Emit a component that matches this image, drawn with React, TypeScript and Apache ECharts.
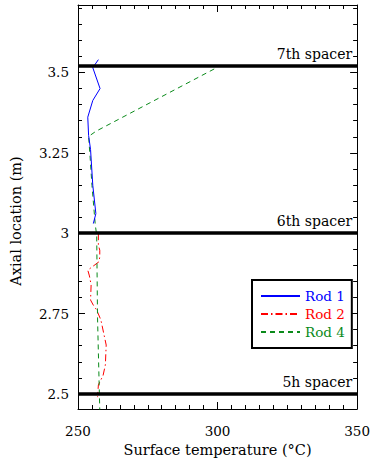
import React, { useEffect, useRef } from "react";
import * as echarts from "echarts";

const rod1Temp = [257.3, 255.3, 257.9, 255.3, 253.5, 253.8, 254.5, 255.3, 256.4, 255.5];
const rod1Axial = [3.54, 3.515, 3.45, 3.413, 3.361, 3.304, 3.26, 3.149, 3.061, 3.03];

const rod2Temp = [257.3, 257.3, 257.8, 257.8, 257.5, 253.5, 254.1, 254.7, 254.5, 255.5, 256.7, 258.2, 260.1, 259.8, 258.9, 258.5, 257.3, 257.0];
const rod2Axial = [3.0, 2.963, 2.947, 2.926, 2.911, 2.885, 2.867, 2.839, 2.792, 2.776, 2.761, 2.73, 2.652, 2.59, 2.554, 2.549, 2.528, 2.49];

const rod4Temp = [298.8, 256.4, 253.8, 254.3, 255.0, 256.2, 256.7, 257.0, 257.8];
const rod4Axial = [3.511, 3.317, 3.301, 3.242, 3.149, 3.025, 2.994, 2.736, 2.45];

const spacerNames = ["7th spacer", "6th spacer", "5h spacer"];
const spacerAxial = [3.523, 3.0, 2.5];

const yMajorTicks = [2.5, 2.75, 3, 3.25, 3.5];
const yMinorTicks = [2.5, 2.55, 2.6, 2.65, 2.7, 2.75, 2.8, 2.85, 2.9, 2.95, 3.0, 3.05, 3.1, 3.15, 3.2, 3.25, 3.3, 3.35, 3.4, 3.45, 3.5, 3.55, 3.6, 3.65, 3.7];

const FONT = "DejaVu Serif";

function pairs(xs: number[], ys: number[]) {
  return xs.map((x, i) => [x, ys[i]]);
}

export default function App() {
  const ref = useRef<HTMLDivElement>(null);
  useEffect(() => {
    document.body.style.margin = "0";
    const chart = echarts.init(ref.current!, null, { renderer: "svg" });
    const yMin = 2.453;
    const yMax = 3.71;
    const baseY = {
      type: "value" as const,
      min: yMin,
      max: yMax,
      splitLine: { show: false },
    };
    const tickLine = { color: "#000", width: 1 };
    chart.setOption({
      animation: false,
      grid: { left: 75, top: 5, width: 283, height: 404 },
      xAxis: [
        {
          type: "value",
          min: 250,
          max: 350,
          interval: 50,
          position: "bottom",
          axisLine: { show: true, lineStyle: { color: "#000", width: 1 } },
          axisTick: { show: true, inside: true, length: 7, lineStyle: tickLine },
          minorTick: { show: true, splitNumber: 10, length: 4, lineStyle: tickLine },
          axisLabel: { show: true, margin: 15, color: "#000", fontFamily: FONT, fontSize: 13.5 },
          splitLine: { show: false },
          name: "Surface temperature (°C)",
          nameLocation: "middle",
          nameGap: 33,
          nameTextStyle: { color: "#000", fontFamily: FONT, fontSize: 14.5 },
        },
        {
          type: "value",
          min: 250,
          max: 350,
          interval: 50,
          position: "top",
          axisLine: { show: true, lineStyle: { color: "#000", width: 1 } },
          axisTick: { show: true, inside: true, length: 7, lineStyle: tickLine },
          minorTick: { show: true, splitNumber: 10, length: 4, lineStyle: tickLine },
          axisLabel: { show: false },
          splitLine: { show: false },
        },
      ],
      yAxis: [
        {
          ...baseY,
          position: "left",
          axisLine: { show: true, lineStyle: { color: "#000", width: 1 } },
          axisTick: { show: true, inside: true, length: 7, lineStyle: tickLine, customValues: yMajorTicks },
          axisLabel: {
            show: true,
            customValues: yMajorTicks,
            margin: 9,
            color: "#000",
            fontFamily: FONT,
            fontSize: 13.5,
            formatter: (v: number) => String(v),
          },
          name: "Axial location (m)",
          nameLocation: "middle",
          nameGap: 55,
          nameTextStyle: { color: "#000", fontFamily: FONT, fontSize: 14.5, padding: [0, 28, 0, 0] },
        },
        {
          ...baseY,
          position: "left",
          axisLine: { show: false },
          axisTick: { show: true, inside: true, length: 4, lineStyle: tickLine, customValues: yMinorTicks },
          axisLabel: { show: false },
        },
        {
          ...baseY,
          position: "right",
          axisLine: { show: true, lineStyle: { color: "#000", width: 1 } },
          axisTick: { show: true, inside: true, length: 7, lineStyle: tickLine, customValues: yMajorTicks },
          axisLabel: { show: false },
        },
        {
          ...baseY,
          position: "right",
          axisLine: { show: false },
          axisTick: { show: true, inside: true, length: 4, lineStyle: tickLine, customValues: yMinorTicks },
          axisLabel: { show: false },
        },
      ],
      legend: {
        orient: "vertical",
        left: 252,
        top: 280,
        padding: [9, 7, 9, 8],
        itemWidth: 39,
        itemHeight: 10,
        itemGap: 4,
        borderColor: "#000",
        borderWidth: 2,
        backgroundColor: "#fff",
        itemStyle: { opacity: 0 },
        textStyle: { fontFamily: FONT, fontSize: 13.5 },
        data: [
          { name: "Rod 1", textStyle: { color: "#0000ff" } },
          { name: "Rod 2", textStyle: { color: "#ff0000" } },
          { name: "Rod 4", textStyle: { color: "#0a8a1a" } },
        ],
      },
      series: [
        {
          name: "Rod 1",
          type: "line",
          data: pairs(rod1Temp, rod1Axial),
          showSymbol: false,
          symbol: "none",
          color: "#0000ff",
          itemStyle: { opacity: 0 },
          lineStyle: { color: "#0000ff", width: 1 },
          z: 3,
          markLine: {
            silent: true,
            symbol: ["none", "none"],
            lineStyle: { color: "#000", width: 3.5, type: "solid", opacity: 1 },
            label: {
              show: true,
              position: "insideEndTop",
              distance: [5, 5],
              color: "#000",
              fontFamily: FONT,
              fontSize: 14,
              formatter: (p: any) => p.name,
            },
            data: spacerNames.map((n, i) => ({ name: n, yAxis: spacerAxial[i] })),
          },
        },
        {
          name: "Rod 2",
          type: "line",
          data: pairs(rod2Temp, rod2Axial),
          showSymbol: false,
          symbol: "none",
          color: "#ff0000",
          itemStyle: { opacity: 0 },
          lineStyle: { color: "#ff0000", width: 1, type: [7, 3, 1.5, 3] },
          z: 2,
        },
        {
          name: "Rod 4",
          type: "line",
          data: pairs(rod4Temp, rod4Axial),
          showSymbol: false,
          symbol: "none",
          color: "#0a8a1a",
          itemStyle: { opacity: 0 },
          lineStyle: { color: "#0a8a1a", width: 1, type: [5, 4] },
          z: 2,
        },
      ],
    });
    return () => chart.dispose();
  }, []);
  return <div ref={ref} style={{ width: 373, height: 464 }} />;
}
